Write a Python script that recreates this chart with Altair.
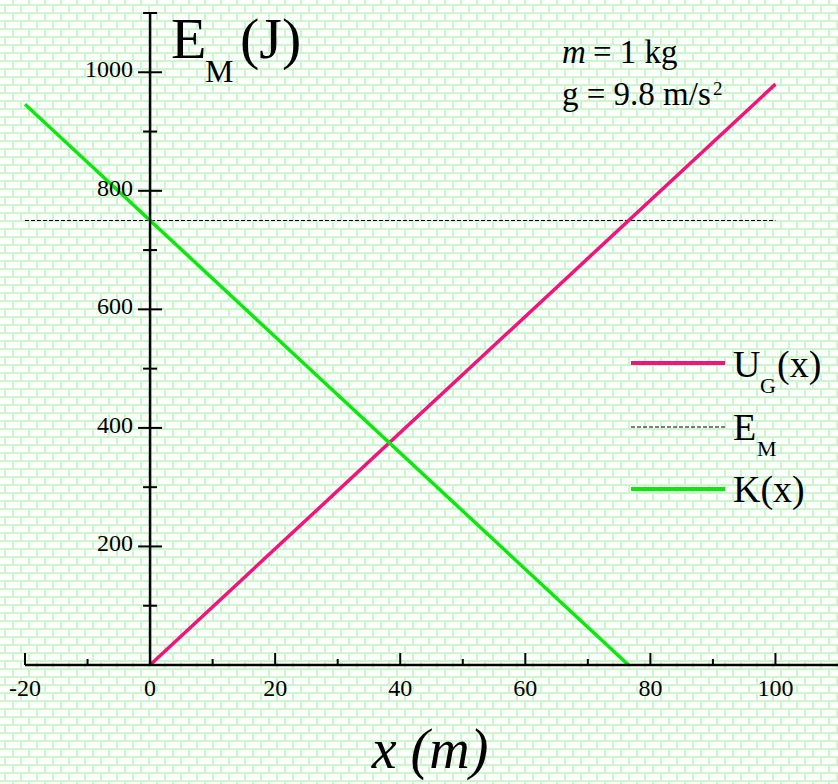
import altair as alt
import numpy as np
import pandas as pd

W, H = 838, 784
SERIF = "Liberation Serif"

# ---- data -------------------------------------------------------------
# gravitational potential energy U_G(x) = m g x
ug_x = [0, 100]
ug_y = [0, 980]
# kinetic energy K(x) = E_M - U_G(x)
k_x = [-20, 76.5]
k_y = [946, 0]
# total mechanical energy E_M
em_x = [-20, 100]
em_y = [750, 750]

x_major = [-20, 20, 40, 60, 80, 100]
x_minor = [-10, 10, 30, 50, 70, 90]
x_labels = [-20, 0, 20, 40, 60, 80, 100]
y_major = [200, 400, 600, 800, 1000]
y_minor = [100, 300, 500, 700, 900, 1100]
y_labels = [200, 400, 600, 800, 1000]

# ---- scales -----------------------------------------------------------
xs = alt.Scale(domain=[-20, 110], range=[25, W])
ys = alt.Scale(domain=[0, 1100], range=[665, 13])

PINK = "#f0147c"
GREEN = "#0be80b"
MORTAR = "#ccf7cc"

# ---- brick texture ----------------------------------------------------
px_scale = alt.Scale(domain=[0, W], range=[0, W])
py_scale = alt.Scale(domain=[0, H], range=[0, H])
rows = np.arange(5, H, 8)
cols_a = np.arange(13, W, 16)
cols_b = np.arange(5, W, 16)

h_mortar = alt.Chart(pd.DataFrame({"py": rows})).mark_rule(
    color=MORTAR, strokeWidth=2
).encode(y=alt.Y("py:Q", scale=py_scale, axis=None), x=alt.value(0), x2=alt.value(W))

v_mortar_a = alt.Chart(pd.DataFrame({"px": cols_a})).mark_rule(
    color=MORTAR, strokeWidth=2, strokeDash=[8, 8], strokeDashOffset=2
).encode(x=alt.X("px:Q", scale=px_scale, axis=None), y=alt.value(0), y2=alt.value(H))

v_mortar_b = alt.Chart(pd.DataFrame({"px": cols_b})).mark_rule(
    color=MORTAR, strokeWidth=2, strokeDash=[8, 8], strokeDashOffset=10
).encode(x=alt.X("px:Q", scale=px_scale, axis=None), y=alt.value(0), y2=alt.value(H))

texture = alt.layer(h_mortar, v_mortar_a, v_mortar_b)

# ---- axes drawn as rules ---------------------------------------------
one = alt.Data(values=[{}])

x_axis_line = alt.Chart(one).mark_rule(color="black", strokeWidth=2.5).encode(
    x=alt.XDatum(-20, scale=xs, axis=None), x2=alt.value(W),
    y=alt.YDatum(0, scale=ys, axis=None))
y_axis_line = alt.Chart(one).mark_rule(color="black", strokeWidth=2.5).encode(
    x=alt.XDatum(0, scale=xs, axis=None),
    y=alt.YDatum(0, scale=ys, axis=None), y2=alt.Y2Datum(1100))

x_major_ticks = alt.Chart(pd.DataFrame({"v": x_major})).mark_rule(
    color="black", strokeWidth=2, y2Offset=-12
).encode(x=alt.X("v:Q", scale=xs, axis=None),
         y=alt.YDatum(0, scale=ys, axis=None), y2=alt.Y2Datum(0))
x_minor_ticks = alt.Chart(pd.DataFrame({"v": x_minor})).mark_rule(
    color="black", strokeWidth=2, y2Offset=-6
).encode(x=alt.X("v:Q", scale=xs, axis=None),
         y=alt.YDatum(0, scale=ys, axis=None), y2=alt.Y2Datum(0))
y_major_ticks = alt.Chart(pd.DataFrame({"v": y_major})).mark_rule(
    color="black", strokeWidth=2, xOffset=-12, x2Offset=12
).encode(y=alt.Y("v:Q", scale=ys, axis=None),
         x=alt.XDatum(0, scale=xs, axis=None), x2=alt.X2Datum(0))
y_minor_ticks = alt.Chart(pd.DataFrame({"v": y_minor})).mark_rule(
    color="black", strokeWidth=2, xOffset=-7, x2Offset=7
).encode(y=alt.Y("v:Q", scale=ys, axis=None),
         x=alt.XDatum(0, scale=xs, axis=None), x2=alt.X2Datum(0))

# tick labels keep a plain hyphen for negatives
x_lab_df = pd.DataFrame({"v": x_labels, "t": [str(v) for v in x_labels]})
y_lab_df = pd.DataFrame({"v": y_labels, "t": [str(v) for v in y_labels]})

x_tick_labels = alt.Chart(x_lab_df).mark_text(
    font=SERIF, fontSize=24, color="black", align="center", baseline="middle"
).encode(x=alt.X("v:Q", scale=xs, axis=None), y=alt.value(689), text="t:N")
y_tick_labels = alt.Chart(y_lab_df).mark_text(
    font=SERIF, fontSize=24, color="black", align="right", baseline="middle", dy=-2
).encode(y=alt.Y("v:Q", scale=ys, axis=None), x=alt.value(133), text="t:N")

# ---- energy curves ----------------------------------------------------
ug_line = alt.Chart(pd.DataFrame({"x": ug_x, "y": ug_y})).mark_line(
    color=PINK, strokeWidth=3.5
).encode(x=alt.X("x:Q", scale=xs, axis=None), y=alt.Y("y:Q", scale=ys, axis=None))
k_line = alt.Chart(pd.DataFrame({"x": k_x, "y": k_y})).mark_line(
    color=GREEN, strokeWidth=3.5
).encode(x=alt.X("x:Q", scale=xs, axis=None), y=alt.Y("y:Q", scale=ys, axis=None))
em_line = alt.Chart(pd.DataFrame({"x": em_x, "y": em_y})).mark_line(
    color="black", strokeWidth=1, strokeDash=[4, 2]
).encode(x=alt.X("x:Q", scale=xs, axis=None), y=alt.Y("y:Q", scale=ys, axis=None))


# ---- text helpers -----------------------------------------------------
def text(t, x, y, size, italic=False, align="left"):
    return alt.Chart(one).mark_text(
        font=SERIF, fontSize=size, color="black", align=align, baseline="alphabetic",
        fontStyle="italic" if italic else "normal"
    ).encode(x=alt.value(x), y=alt.value(y), text=alt.value(t))


def legend_line(y, color, width, dash=None):
    kw = dict(color=color, strokeWidth=width)
    if dash:
        kw["strokeDash"] = dash
    return alt.Chart(one).mark_rule(**kw).encode(
        x=alt.value(631), x2=alt.value(725), y=alt.value(y))


labels = [
    # y-axis title E_M(J)
    text("E", 171, 58, 58), text("M", 205, 82, 32), text("(J)", 240, 58, 58),
    # x-axis title
    text("x (m)", 430, 768, 56, italic=True, align="center"),
    # constants
    text("m", 562, 63, 33, italic=True), text("= 1 kg", 593, 63, 33),
    text("g = 9.8 m/s", 562, 105, 33), text("2", 713, 95, 19),
    # legend
    text("U", 733, 377, 38), text("G", 760, 393, 22), text("(x)", 777, 377, 38),
    text("E", 733, 440, 38), text("M", 757, 456, 22),
    text("K(x)", 733, 502, 38),
]

legend = [
    legend_line(363, PINK, 4),
    legend_line(427, "black", 1, [4, 2]),
    legend_line(489, GREEN, 4),
]

main = alt.layer(
    em_line, ug_line, k_line,
    x_axis_line, y_axis_line,
    x_major_ticks, x_minor_ticks, y_major_ticks, y_minor_ticks,
    x_tick_labels, y_tick_labels,
    *legend, *labels,
)

chart = alt.layer(texture, main).resolve_scale(
    x="independent", y="independent"
).properties(
    width=W, height=H, padding=0,
    autosize=alt.AutoSizeParams(type="none"),
    background="white",
).configure_view(stroke=None)

chart.save("out.html", embed_options={"renderer": "svg", "actions": False})
